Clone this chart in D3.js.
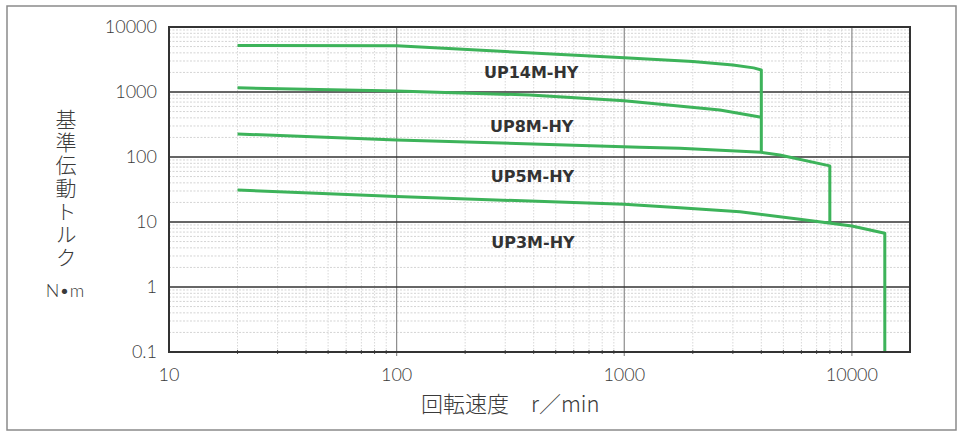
<!DOCTYPE html>
<html>
<head>
<meta charset="utf-8">
<script src="https://cdn.jsdelivr.net/npm/d3@7"></script>
<style>
  body { margin: 0; background: #fff; }
  svg { display: block; }
</style>
</head>
<body>
<script>
// Dimensions du graphique
const width = 972;
const height = 437;
const margin = { top: 27, right: 62, bottom: 85, left: 169 };
const green = '#3db35a';

// Données : vitesse (r/min) et couple (N·m)
const up14Speed  = [20, 100, 1000, 2000, 3000, 3700, 4000, 4000];
const up14Torque = [5200, 5150, 3350, 2950, 2600, 2350, 2180, 119];

const up8Speed  = [20, 100, 385, 1000, 2630, 4000];
const up8Torque = [1160, 1035, 900, 735, 528, 408];

const up5Speed  = [20, 100, 1170, 1755, 4000, 4820, 8000, 8000];
const up5Torque = [226, 183, 141, 136, 118, 107, 73, 9.75];

const up3Speed  = [20, 100, 1000, 1755, 3220, 5900, 10000, 13950, 13950];
const up3Torque = [31, 24.7, 18.7, 16.6, 14.4, 11.0, 8.67, 6.7, 0.1];

const seriesNames = ['UP14M-HY', 'UP8M-HY', 'UP5M-HY', 'UP3M-HY'];
const labelSpeed  = [390, 392, 395, 397];
const labelTorque = [2000, 300, 50, 4.8];

const xTicks = [10, 100, 1000, 10000];
const yTicks = [0.1, 1, 10, 100, 1000, 10000];

const series = [
  { name: seriesNames[0], speed: up14Speed, torque: up14Torque },
  { name: seriesNames[1], speed: up8Speed,  torque: up8Torque },
  { name: seriesNames[2], speed: up5Speed,  torque: up5Torque },
  { name: seriesNames[3], speed: up3Speed,  torque: up3Torque }
];

const svg = d3.select('body')
              .append('svg')
              .attr('width', width)
              .attr('height', height);

// Cadre extérieur
svg.append('rect')
   .attr('x', 7).attr('y', 6)
   .attr('width', 949).attr('height', 424)
   .attr('fill', '#fff')
   .attr('stroke', '#8a8a8a')
   .attr('stroke-width', 1.5);

// Échelles logarithmiques
const x = d3.scaleLog()
            .domain([10, 18000])
            .range([margin.left, width - margin.right]);

const y = d3.scaleLog()
            .domain([0.1, 10000])
            .range([height - margin.bottom, margin.top]);

const [x0, x1] = x.range();
const [y0, y1] = y.range();

// Graduations mineures
const xMinor = x.ticks().filter(v => !xTicks.includes(v) && v < 18000);
const yMinor = y.ticks().filter(v => !yTicks.includes(v));

const grid = svg.append('g');

grid.selectAll('.vminor')
    .data(xMinor)
    .enter()
    .append('line')
    .attr('x1', d => x(d)).attr('x2', d => x(d))
    .attr('y1', y1).attr('y2', y0)
    .attr('stroke', '#d8d8d8')
    .attr('stroke-width', 1)
    .attr('stroke-dasharray', '1.5,1.5');

grid.selectAll('.hminor')
    .data(yMinor)
    .enter()
    .append('line')
    .attr('x1', x0).attr('x2', x1)
    .attr('y1', d => y(d)).attr('y2', d => y(d))
    .attr('stroke', '#d4d4d4')
    .attr('stroke-width', 1)
    .attr('stroke-dasharray', '2,1.5');

grid.selectAll('.vmajor')
    .data(xTicks.slice(1))
    .enter()
    .append('line')
    .attr('x1', d => x(d)).attr('x2', d => x(d))
    .attr('y1', y1).attr('y2', y0 + 4)
    .attr('stroke', '#8c8c8c')
    .attr('stroke-width', 1.2);

grid.selectAll('.hmajor')
    .data(yTicks.slice(1, -1))
    .enter()
    .append('line')
    .attr('x1', x0).attr('x2', x1)
    .attr('y1', d => y(d)).attr('y2', d => y(d))
    .attr('stroke', '#333')
    .attr('stroke-width', 1.6);

// Petits traits sous l'axe horizontal
grid.selectAll('.tick-minor')
    .data(xMinor)
    .enter()
    .append('line')
    .attr('x1', d => x(d)).attr('x2', d => x(d))
    .attr('y1', y0 - 2).attr('y2', y0 + 2)
    .attr('stroke', '#555')
    .attr('stroke-width', 1);

// Courbes
const line = d3.line()
               .x(d => x(d[0]))
               .y(d => y(d[1]));

svg.append('g')
   .selectAll('path')
   .data(series)
   .enter()
   .append('path')
   .attr('d', d => line(d3.zip(d.speed, d.torque)))
   .attr('fill', 'none')
   .attr('stroke', green)
   .attr('stroke-width', 3)
   .attr('stroke-linejoin', 'round');

// Cadre du graphique
svg.append('rect')
   .attr('x', x0).attr('y', y1)
   .attr('width', x1 - x0).attr('height', y0 - y1)
   .attr('fill', 'none')
   .attr('stroke', '#333')
   .attr('stroke-width', 2);

// Noms des séries
svg.append('g')
   .attr('text-anchor', 'middle')
   .style('font', 'bold 16px "DejaVu Sans", sans-serif')
   .attr('fill', '#333')
   .selectAll('text')
   .data(seriesNames)
   .enter()
   .append('text')
   .attr('x', (d, i) => x(labelSpeed[i]))
   .attr('y', (d, i) => y(labelTorque[i]))
   .attr('dy', '0.35em')
   .text(d => d);

// Étiquettes des axes
const tickFont = '300 18px Lato, "Open Sans", sans-serif';

svg.append('g')
   .attr('text-anchor', 'end')
   .style('font', tickFont)
   .attr('fill', '#3a3a3a')
   .selectAll('text')
   .data(yTicks)
   .enter()
   .append('text')
   .attr('x', x0 - 12)
   .attr('y', d => y(d))
   .attr('dy', '0.35em')
   .text(d => d);

svg.append('g')
   .attr('text-anchor', 'middle')
   .style('font', tickFont)
   .attr('fill', '#3a3a3a')
   .selectAll('text')
   .data(xTicks)
   .enter()
   .append('text')
   .attr('x', d => x(d))
   .attr('y', y0 + 29)
   .text(d => d);

// Titres des axes
svg.append('text')
   .attr('x', 421)
   .attr('y', 412)
   .style('font', '300 22px "Noto Sans CJK JP", sans-serif')
   .attr('fill', '#3a3a3a')
   .text('回転速度　r／min');

svg.append('text')
   .attr('x', 66)
   .attr('y', 109)
   .style('font', '300 21px "Noto Sans CJK JP", sans-serif')
   .style('writing-mode', 'vertical-rl')
   .style('letter-spacing', '2px')
   .attr('fill', '#3a3a3a')
   .text('基準伝動トルク');

svg.append('text')
   .attr('x', 65)
   .attr('y', 297)
   .attr('text-anchor', 'middle')
   .style('font', '300 18px Lato, "Open Sans", sans-serif')
   .attr('fill', '#3a3a3a')
   .text('N•m');
</script>
</body>
</html>
